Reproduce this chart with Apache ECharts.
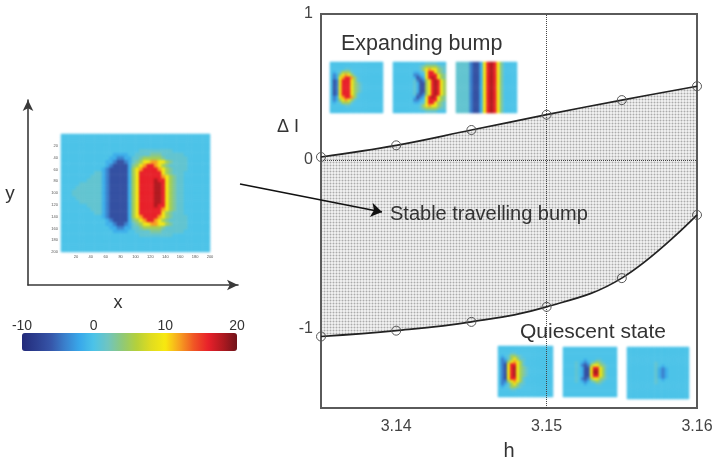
<!DOCTYPE html>
<html><head><meta charset="utf-8">
<style>html,body{margin:0;padding:0;background:#fff}
#a,#b,#c{position:absolute;left:0;top:0;width:712px;height:461px}
#a{filter:blur(.35px)}#b{filter:blur(1.1px)}#c{filter:blur(.4px)}</style>
<script src="https://cdn.jsdelivr.net/npm/echarts@6/dist/echarts.min.js"></script>
</head><body><div id="a"></div><div id="b"></div><div id="c"></div>
<script>
// Boundary curves of the stable travelling bump region
const hValues = [3.135, 3.14, 3.145, 3.15, 3.155, 3.16];
const upperBranch = [0.02, 0.10, 0.205, 0.31, 0.41, 0.505];
const lowerBranch = [-1.21, -1.17, -1.11, -1.007, -0.81, -0.377];
const xTicks = [3.14, 3.15, 3.16];
const yTickValues = [1, 0, -1.155];
const yTickLabels = ['1', '0', '-1'];
const colorbarTicks = [-10, 0, 10, 20];
const jetColors = ['#232a7a','#2c3f90','#3655a8','#3a80cd','#38a8ea','#4cc3e8','#70c5c0','#8fc978','#b5d03a','#e0dc20','#f8e90f','#f7a020','#f05525','#e8202a','#b01a20','#70131a'];
// Field levels used by the snapshot rows below
const levels = {'.':0, ',':1.2, l:3, g:5, y:9.5, o:12, r:16, R:18, c:-1.5, b:-4, B:-6.5};
// Snapshots: rows from the centre line outward (fields are mirror symmetric in y)
const mainField = [
"...,,,,,,,,cbBBBBBcgyrrrrRRrygl,,",
"....,,,,,,,cbBBBBBcgyrrrrRRrygl,,",
".....,,,,,,cbBBBBBcgyrrrrRRrygl,,",
".......,,,,cbBBBBBcgyrrrrRrrygl,,",
"........,,,cbBBBBBcgyrrrrrroygl,,",
".........,,cbBBBBBcgyrrrrrrygl,,,",
"...........cbBBBBBcgyorrrroygl,,,,",
"............cbBBBBclgyorroygl,,,,,",
"............ccbBBbc,lgyyooyygl,,,,",
".............ccbbcc,,lgggggl,,,,,,",
"..............cccc..,,,,lll,,,,,,",
".....................,,,,,,,,,"
];
const expand1 = [".Bbyrrrygl,",".Bbyrrrygl,",".Bbyrrryg,",".bcyorrog,",".bcgyoyg,",".c.,ggg,",".....,,"];
const expand2 = [".......,cBBgyrRryg",".......,cBBgyrRryg",".......,bBbgyrRryg",".......cBbcyrRrygl",".......bbc.yrrrygl",".......cc.,yrrygl,",".........,gyoyygl,",".........,lggggl,,","...........,,,,"];
const expand3 = Array(9).fill(",,,,bBBcyrRryl....");
const quiet1 = [".bByrRygl,",".bByrRygl,",".bByrryg,",".bbgyoyg,",".bc,gyg,,",".c.,ggl,","....,,"];
const quiet2 = ["....,.cBByRRyg,","....,.cBByrryg,","....,.bBbgyygl,","....,.cbc,lgl,",".......c...,,"];
const quiet3 = ["........,cbc","........,cbc","........,.c","........,"];
// Tiny tick values of the large snapshot
const fieldTicks = [20, 40, 60, 80, 100, 120, 140, 160, 180, 200];

const FONT = '"Liberation Sans", Arial, sans-serif';
const under = echarts.init(document.getElementById('a'));
const back = echarts.init(document.getElementById('b'));
const chart = echarts.init(document.getElementById('c'));

function fieldData(rows, nCols, nHalf) {
  const data = [];
  for (let r = 0; r < nHalf; r++) {
    const s = rows[r] || '';
    for (let c = 0; c < nCols; c++) {
      const v = levels[s.charAt(c)] ?? 0;
      data.push([c, nHalf + r, v]);
      data.push([c, nHalf - 1 - r, v]);
    }
  }
  return data;
}
const idx = n => Array.from({length: n}, (_, i) => i);

const snapshots = [
  {rows: mainField, cols: 40, half: 16, box: [61, 134, 149, 118]},
  {rows: expand1, cols: 18, half: 9, box: [330, 62, 53, 51]},
  {rows: expand2, cols: 18, half: 9, box: [393, 62, 53, 51]},
  {rows: expand3, cols: 18, half: 9, box: [456, 62, 61, 51]},
  {rows: quiet1, cols: 18, half: 9, box: [498, 346, 55, 51]},
  {rows: quiet2, cols: 18, half: 9, box: [563, 347, 54, 50]},
  {rows: quiet3, cols: 18, half: 9, box: [627, 347, 62, 52]}
];

const SMOOTH = 0.4;
const pairs = arr => hValues.map((h, i) => [h, arr[i]]);

// Stippled band layer: upper branch fill, lower branch mask
const pat = document.createElement('canvas');
pat.width = 3; pat.height = 3;
const p = pat.getContext('2d');
p.fillStyle = '#eeeeee'; p.fillRect(0, 0, 3, 3);
p.fillStyle = '#d6d6d6'; p.fillRect(0, 0, 3, 1); p.fillRect(0, 0, 1, 3);
p.fillStyle = '#ababab'; p.fillRect(0, 0, 1, 1);
under.setOption({animation: false,
  grid: {left: 321, top: 14, width: 376, height: 394, outerBoundsMode: 'none'},
  xAxis: {type: 'value', min: 3.135, max: 3.16, show: false},
  yAxis: {type: 'value', min: -1.7, max: 1, show: false},
  series: [
    {type: 'line', smooth: SMOOTH, symbol: 'none', silent: true, data: pairs(upperBranch), lineStyle: {opacity: 0}, z: 1,
      areaStyle: {color: {image: pat, repeat: 'repeat'}, opacity: 1, origin: 'start'}},
    {type: 'line', smooth: SMOOTH, symbol: 'none', silent: true, data: pairs(lowerBranch), lineStyle: {opacity: 0}, z: 2,
      areaStyle: {color: '#ffffff', opacity: 1, origin: 'start'}}
  ]});

// Snapshot layer
const hGrids = [], hX = [], hY = [], hSeries = [];
snapshots.forEach((s, i) => {
  hGrids.push({left: s.box[0], top: s.box[1], width: s.box[2], height: s.box[3], outerBoundsMode: 'none'});
  hX.push({gridIndex: i, type: 'category', show: false, data: idx(s.cols)});
  hY.push({gridIndex: i, type: 'category', show: false, data: idx(s.half * 2)});
  hSeries.push({type: 'heatmap', xAxisIndex: i, yAxisIndex: i, data: fieldData(s.rows, s.cols, s.half), progressive: 0, silent: true, itemStyle: {borderWidth: 0}});
});
back.setOption({animation: false, grid: hGrids, xAxis: hX, yAxis: hY, series: hSeries,
  visualMap: [{type: 'continuous', show: false, min: -10, max: 20, inRange: {color: jetColors}, seriesIndex: idx(snapshots.length)}]});

// Line and annotation layer
const NB = 'none';
const grids = [
  {left: 321, top: 14, width: 376, height: 394, show: true, borderColor: '#5a5a5a', borderWidth: 2, backgroundColor: 'transparent', outerBoundsMode: NB},
  {left: 28, top: 100, width: 210, height: 185, outerBoundsMode: NB},
  {left: 22, top: 333, width: 215, height: 18, outerBoundsMode: NB},
  {left: 61, top: 134, width: 149, height: 118, outerBoundsMode: NB}
];
const off = {axisLine: {show: false}, axisTick: {show: false}, splitLine: {show: false}};
const arrowLine = {show: true, symbol: ['none', 'arrow'], symbolSize: [8, 11], lineStyle: {color: '#3a3a3a', width: 1.6}};
const tinyLabel = {customValues: fieldTicks, fontFamily: FONT, fontSize: 4, color: '#555', margin: 3};
const xAxes = [
  {gridIndex: 0, type: 'value', min: 3.135, max: 3.16, name: 'h', nameLocation: 'middle', nameGap: 33,
    nameTextStyle: {fontFamily: FONT, fontSize: 20, color: '#333'}, ...off,
    axisLabel: {customValues: xTicks, formatter: v => v.toFixed(2), fontFamily: FONT, fontSize: 16, color: '#444', margin: 11}},
  {gridIndex: 1, type: 'value', min: 0, max: 1, axisLine: arrowLine, axisTick: {show: false}, axisLabel: {show: false}, splitLine: {show: false}},
  {gridIndex: 2, type: 'value', position: 'top', min: -10, max: 20, ...off,
    axisLabel: {customValues: colorbarTicks, fontFamily: FONT, fontSize: 14, color: '#333', margin: 0}},
  {gridIndex: 3, type: 'value', min: 0, max: 200, position: 'bottom', ...off, axisLabel: tinyLabel}
];
const yAxes = [
  {gridIndex: 0, type: 'value', min: -1.7, max: 1, ...off,
    axisLabel: {customValues: yTickValues, formatter: v => yTickLabels[yTickValues.indexOf(v)], fontFamily: FONT, fontSize: 16, color: '#444', margin: 8}},
  {gridIndex: 1, type: 'value', min: 0, max: 1, axisLine: arrowLine, axisTick: {show: false}, axisLabel: {show: false}, splitLine: {show: false}},
  {gridIndex: 2, type: 'value', show: false, min: 0, max: 1},
  {gridIndex: 3, type: 'value', min: 0, max: 200, inverse: true, position: 'left', ...off, axisLabel: tinyLabel}
];

const common = {xAxisIndex: 0, yAxisIndex: 0, smooth: SMOOTH, silent: true};
const series = [];
const branchStyle = {type: 'line', symbol: 'circle', symbolSize: 9, lineStyle: {color: '#222', width: 1.7},
  itemStyle: {color: 'rgba(0,0,0,0)', borderColor: '#555', borderWidth: 1}, z: 2, clip: false};
series.push({...common, ...branchStyle, data: pairs(upperBranch),
  markLine: {silent: true, symbol: 'none', label: {show: false}, animation: false, z: 4,
    lineStyle: {type: 'dotted', color: '#444', width: 1}, data: [{xAxis: 3.15}, {yAxis: 0}]}});
series.push({...common, ...branchStyle, data: pairs(lowerBranch),
  markLine: {silent: true, symbol: ['none', 'arrow'], symbolSize: 11, label: {show: false}, animation: false, z: 5,
    lineStyle: {type: 'solid', color: '#111', width: 1.6},
    data: [[{x: 240, y: 184}, {x: 382, y: 212}]]}});

const txt = (text, x, y, size, color, align) => ({type: 'text', x, y, z: 20,
  style: {text, fontFamily: FONT, fontSize: size, fill: color || '#333', textAlign: align || 'left', textVerticalAlign: 'middle'}});

chart.setOption({
  animation: false,
  backgroundColor: 'transparent',
  grid: grids, xAxis: xAxes, yAxis: yAxes, series,
  visualMap: [{type: 'continuous', show: true, seriesIndex: [], min: -10, max: 20, orient: 'horizontal',
    left: 22, top: 333, itemWidth: 18, itemHeight: 215, padding: 0, calculable: false, showLabel: false, text: null,
    inRange: {color: jetColors}}],
  graphic: [
    txt('Expanding bump', 341, 44, 21.5),
    txt('Stable travelling bump', 390, 214, 20),
    txt('Quiescent state', 520, 332, 21),
    txt('Δ I', 277, 127, 18),
    txt('x', 118, 303, 18, '#333', 'center'),
    txt('y', 10, 194, 19, '#333', 'center')
  ]
});
</script></body></html>
